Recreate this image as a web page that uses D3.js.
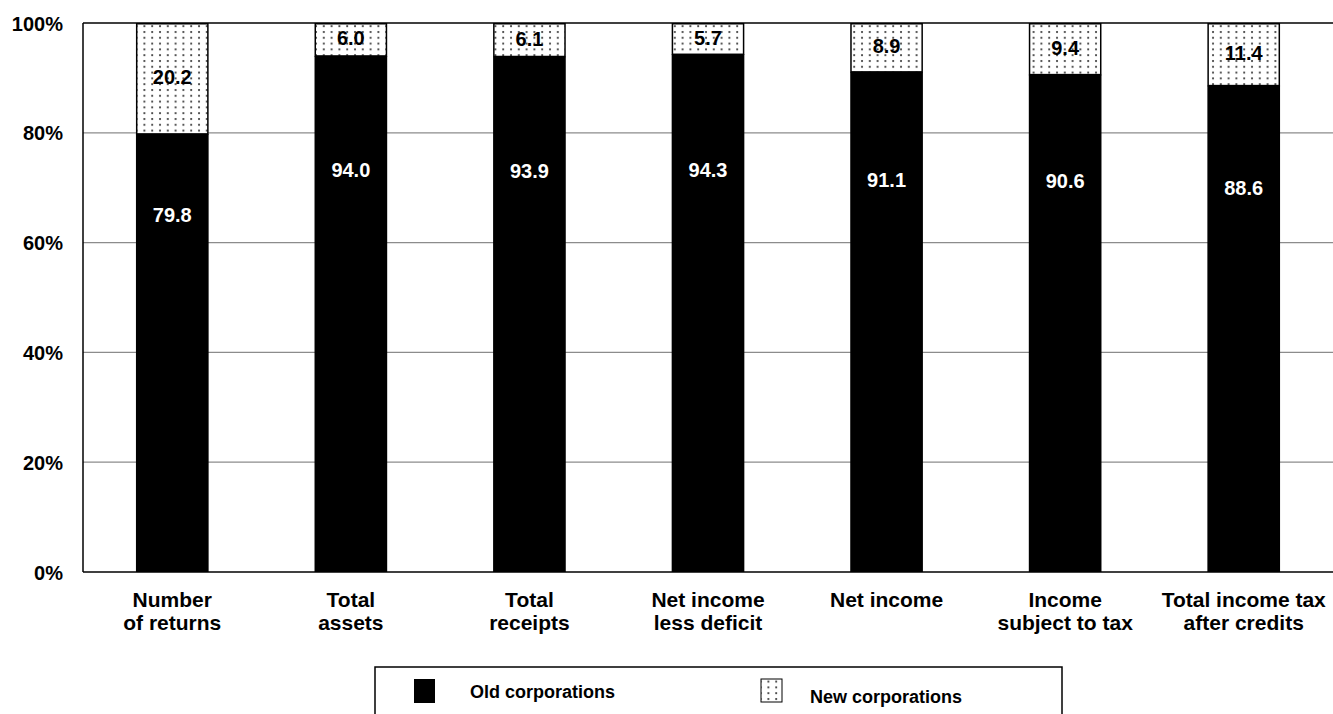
<!DOCTYPE html>
<html><head><meta charset="utf-8">
<script src="https://cdn.jsdelivr.net/npm/d3@7"></script>
<style>
html,body{margin:0;padding:0;background:#fff;}
svg{display:block;}
text{font-family:"Liberation Sans",Arial,sans-serif;font-weight:bold;}
</style></head>
<body>
<svg id="chart" width="1333" height="714"></svg>
<script>
const categories = [["Number","of returns"],["Total","assets"],["Total","receipts"],["Net income","less deficit"],["Net income"],["Income","subject to tax"],["Total income tax","after credits"]];
const oldValues = [79.8, 94.0, 93.9, 94.3, 91.1, 90.6, 88.6];
const newValues = [20.2, 6.0, 6.1, 5.7, 8.9, 9.4, 11.4];
const yTicks = [0, 20, 40, 60, 80, 100];
const seriesNames = ["Old corporations", "New corporations"];

const svg = d3.select("#chart");
const pL = 83, pR = 1333, pT = 23, pB = 572;
const fs = 20;

const defs = svg.append("defs");
const pat = defs.append("pattern").attr("id","dots").attr("patternUnits","userSpaceOnUse")
  .attr("width",7.8).attr("height",5.8).attr("x",2).attr("y",1);
pat.append("rect").attr("width",7.8).attr("height",5.8).attr("fill","#fff");
pat.append("circle").attr("cx",2).attr("cy",2).attr("r",1.05).attr("fill","#333");

const x = d3.scaleBand().domain(d3.range(categories.length)).range([pL, pR])
  .paddingInner(0.593).paddingOuter(0.2965);
const y = d3.scaleLinear().domain([0,100]).range([pB, pT]);

// gridlines
svg.append("g").selectAll("line").data(yTicks.filter(t => t > 0 && t < 100)).join("line")
  .attr("x1", pL).attr("x2", pR).attr("y1", d => y(d)).attr("y2", d => y(d))
  .attr("stroke","#8c8c8c").attr("stroke-width",1.2);
svg.append("line").attr("x1",pL).attr("x2",pR).attr("y1",y(100)).attr("y2",y(100))
  .attr("stroke","#000").attr("stroke-width",1.5);

// y axis
const yAxis = d3.axisLeft(y).tickValues(yTicks).tickFormat(d => d + "%").tickSize(0).tickPadding(20);
const ga = svg.append("g").attr("transform",`translate(${pL},0)`).call(yAxis);
ga.select(".domain").remove();
ga.selectAll("text").attr("font-size",fs).attr("fill","#000").attr("dy","0.35em")
  .style("font-family","'Liberation Sans',Arial,sans-serif").style("font-weight","bold");

// bars
const bw = x.bandwidth();
svg.append("g").selectAll("rect").data(oldValues).join("rect")
  .attr("x",(d,i)=>x(i)).attr("width",bw).attr("y",d=>y(d)).attr("height",d=>y(0)-y(d))
  .attr("fill","#000");
svg.append("g").selectAll("rect").data(newValues).join("rect")
  .attr("x",(d,i)=>x(i)+0.75).attr("width",bw-1.5)
  .attr("y",(d,i)=>y(oldValues[i]+d)+0.75).attr("height",(d,i)=>y(oldValues[i])-y(oldValues[i]+d)-0.75)
  .attr("fill","url(#dots)").attr("stroke","#000").attr("stroke-width",1.5);

// axes lines
svg.append("line").attr("x1",pL).attr("x2",pL).attr("y1",pT).attr("y2",pB).attr("stroke","#000").attr("stroke-width",1.5);
svg.append("line").attr("x1",pL).attr("x2",pR).attr("y1",pB).attr("y2",pB).attr("stroke","#000").attr("stroke-width",1.5);

// value labels
svg.append("g").selectAll("text").data(oldValues).join("text")
  .attr("x",(d,i)=>x(i)+bw/2).attr("y",d=>y(0.577*d+18.9)).attr("dy","0.35em")
  .attr("text-anchor","middle").attr("font-size",fs).attr("fill","#fff").text(d=>d.toFixed(1));
svg.append("g").selectAll("text").data(newValues).join("text")
  .attr("x",(d,i)=>x(i)+bw/2).attr("y",(d,i)=>y(oldValues[i]+d/2)-1).attr("dy","0.35em")
  .attr("text-anchor","middle").attr("font-size",fs).attr("fill","#000").text(d=>d.toFixed(1));

// category labels
const cg = svg.append("g").selectAll("text").data(categories).join("text")
  .attr("x",(d,i)=>x(i)+bw/2).attr("y",607).attr("text-anchor","middle").attr("font-size",21).attr("fill","#000");
cg.selectAll("tspan").data(d=>d).join("tspan")
  .attr("x",function(){return this.parentNode.getAttribute("x");})
  .attr("dy",(d,i)=>i===0?0:23).text(d=>d);

// legend
const lg = svg.append("g");
lg.append("rect").attr("x",375).attr("y",667).attr("width",687).attr("height",80)
  .attr("fill","#fff").attr("stroke","#000").attr("stroke-width",1.5);
lg.append("rect").attr("x",414).attr("y",679).attr("width",21).attr("height",24).attr("fill","#000");
lg.append("text").attr("x",470).attr("y",698).attr("font-size",18).attr("fill","#000").text(seriesNames[0]);
lg.append("rect").attr("x",761).attr("y",679).attr("width",21).attr("height",23)
  .attr("fill","url(#dots)").attr("stroke","#000").attr("stroke-width",1);
lg.append("text").attr("x",810).attr("y",703).attr("font-size",18).attr("fill","#000").text(seriesNames[1]);
</script>
</body></html>
